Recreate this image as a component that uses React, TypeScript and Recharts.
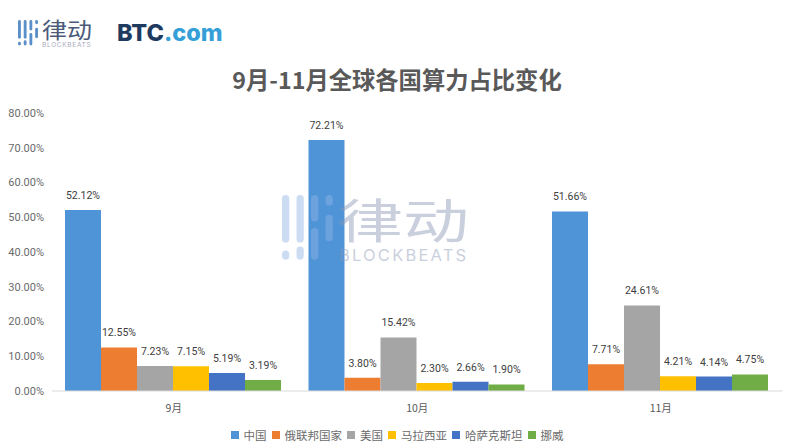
import { BarChart, Bar, XAxis, YAxis, LabelList, Legend } from "recharts";

const months = ["9月", "10月", "11月"];
const seriesNames = ["中国", "俄联邦国家", "美国", "马拉西亚", "哈萨克斯坦", "挪威"];
const china = [52.12, 72.21, 51.66];
const russia = [12.55, 3.8, 7.71];
const usa = [7.23, 15.42, 24.61];
const malaysia = [7.15, 2.3, 4.21];
const kazakhstan = [5.19, 2.66, 4.14];
const norway = [3.19, 1.9, 4.75];
const yTicks = [0, 10, 20, 30, 40, 50, 60, 70, 80];

const seriesValues = [china, russia, usa, malaysia, kazakhstan, norway];
const colors = ["#5094d8", "#ed7d31", "#a5a5a5", "#ffc000", "#4472c4", "#70ad47"];

const data = months.map((month, i) => {
  const row: Record<string, string | number> = { month };
  seriesNames.forEach((name, s) => {
    row[name] = seriesValues[s][i];
  });
  return row;
});

const pct = (v: unknown) => Number(v).toFixed(2) + "%";
const cjk = '"Noto Sans CJK SC", sans-serif';

function LogoBars({ x, y, h, color }: { x: number; y: number; h: number; color: string }) {
  const w = h * 0.11;
  const gap = h * 0.22;
  const bars = [
    [0, 0.0, 0.72],
    [1, 0.0, 0.72],
    [2, 0.0, 0.4],
    [3, 0.0, 0.16],
  ];
  return (
    <svg style={{ position: "absolute", left: x, top: y }} width={h} height={h}>
      {bars.map(([i, t, len]) => (
        <rect key={i} x={i * gap} y={t * h} width={w} height={len * h} rx={w / 2} fill={color} />
      ))}
      <rect x={0} y={h * 0.84} width={w} height={h * 0.14} rx={w / 2} fill={color} />
      <rect x={gap} y={h * 0.78} width={w} height={h * 0.2} rx={w / 2} fill={color} />
      <rect x={2 * gap} y={h * 0.5} width={w} height={h * 0.48} rx={w / 2} fill={color} />
      <rect x={3 * gap} y={h * 0.3} width={w} height={h * 0.4} rx={w / 2} fill={color} />
    </svg>
  );
}

function LegendRow({ payload }: any) {
  return (
    <div style={{ display: "flex", justifyContent: "center", alignItems: "center", gap: 5, height: 26 }}>
      {(payload || []).map((item: any) => (
        <div key={item.value} style={{ display: "flex", alignItems: "center", gap: 5 }}>
          <span style={{ width: 8, height: 8, background: item.color, display: "inline-block" }} />
          <span style={{ fontSize: 11.5, fontFamily: cjk, color: "#6b6b6b", lineHeight: "16px" }}>{item.value}</span>
        </div>
      ))}
    </div>
  );
}

export default function App() {
  return (
    <div style={{ position: "absolute", left: 0, top: 0, width: 787, height: 448, background: "#fff", overflow: "hidden" }}>
      <LogoBars x={18} y={20} h={26} color="#5a8fc8" />
      <div style={{ position: "absolute", left: 42, top: 20, fontFamily: cjk, fontSize: 25, color: "#4a5a78", lineHeight: "20px", transform: "scaleY(0.85)", transformOrigin: "top left" }}>
        律动
      </div>
      <div style={{ position: "absolute", left: 42, top: 41, fontFamily: "Inter", fontSize: 6.5, color: "#a9a9bd", letterSpacing: 0.7, lineHeight: "8px" }}>
        BLOCKBEATS
      </div>
      <div style={{ position: "absolute", left: 117, top: 17, fontFamily: "Inter", fontWeight: 800, fontSize: 23.5, lineHeight: "32px" }}>
        <span style={{ color: "#1f3a5f" }}>BTC</span>
        <span style={{ color: "#35a0d8" }}>.com</span>
      </div>
      <div style={{ position: "absolute", left: 0, width: 794, top: 63, textAlign: "center", fontFamily: cjk, fontWeight: 700, fontSize: 23.3, color: "#595959", lineHeight: "32px" }}>
        9月-11月全球各国算力占比变化
      </div>
      <BarChart
        width={787}
        height={448}
        data={data}
        margin={{ top: 113, right: 4.5, bottom: 0, left: 0 }}
        barCategoryGap={13}
        barGap={0}
        style={{ position: "absolute", left: 0, top: 0 }}
      >
        <XAxis
          dataKey="month"
          height={31}
          tick={{ fontSize: 10.5, fill: "#595959", fontFamily: cjk }}
          tickLine={false}
          axisLine={{ stroke: "#d9d9d9" }}
          tickMargin={8}
        />
        <YAxis
          width={52}
          domain={[0, 80]}
          ticks={yTicks}
          tickFormatter={pct}
          tick={{ fontSize: 11, fill: "#6b6b6b", fontFamily: "Roboto" }}
          tickLine={false}
          axisLine={false}
          tickMargin={2}
        />
        <Legend
          verticalAlign="bottom"
          content={<LegendRow />}
          itemSorter={null}
          wrapperStyle={{ left: 0, width: 794, bottom: 0, height: 26 }}
        />
        {seriesNames.map((name, s) => (
          <Bar key={name} dataKey={name} fill={colors[s]} isAnimationActive={false}>
            <LabelList dataKey={name} position="top" offset={11} formatter={pct} style={{ fontSize: 10.5, fill: "#404040", fontFamily: "Roboto" }} />
          </Bar>
        ))}
      </BarChart>
      <div style={{ opacity: 0.45, pointerEvents: "none" }}>
        <LogoBars x={282} y={195} h={66} color="#8fb4e6" />
        <div style={{ position: "absolute", left: 337, top: 197, fontFamily: cjk, fontSize: 66, color: "#8b97b5", lineHeight: "60px", height: 44, transform: "scaleY(0.7)", transformOrigin: "top left", whiteSpace: "nowrap" }}>
          律动
        </div>
        <div style={{ position: "absolute", left: 339, top: 246, fontFamily: "Inter", fontSize: 16.5, color: "#8b97b5", letterSpacing: 2.2, lineHeight: "18px", whiteSpace: "nowrap" }}>
          BLOCKBEATS
        </div>
      </div>
    </div>
  );
}
